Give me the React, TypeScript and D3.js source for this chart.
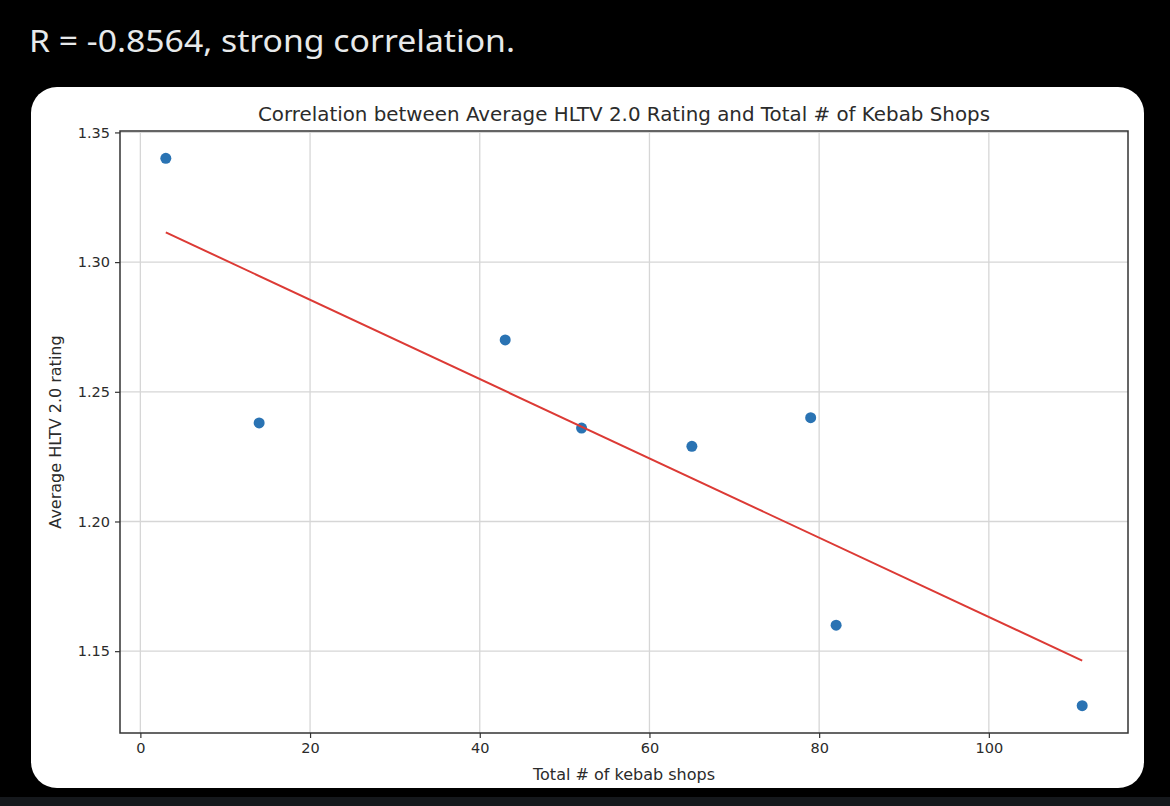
import { useEffect, useRef } from 'react';
import * as d3 from 'd3';

// Kebab shops vs. average HLTV 2.0 rating
const shopCounts = [3, 14, 43, 52, 65, 79, 82, 111];
const ratings = [1.34, 1.238, 1.27, 1.236, 1.229, 1.24, 1.16, 1.129];

const xTicks = [0, 20, 40, 60, 80, 100];
const yTicks = [1.15, 1.2, 1.25, 1.3, 1.35];

const headline = 'R = -0.8564, strong correlation.';
const chartTitle = 'Correlation between Average HLTV 2.0 Rating and Total # of Kebab Shops';
const xLabel = 'Total # of kebab shops';
const yLabel = 'Average HLTV 2.0 rating';

const W = 1170;
const H = 806;

export default function App() {
  const svgRef = useRef<SVGSVGElement>(null);

  useEffect(() => {
    document.body.style.margin = '0';
    document.body.style.background = '#000';
    if (!svgRef.current) return;

    const svg = d3.select(svgRef.current);
    svg.selectAll('*').remove();

    svg.append('rect').attr('width', W).attr('height', H).attr('fill', '#000');
    svg.append('rect').attr('y', 797).attr('width', W).attr('height', H - 797).attr('fill', '#15181c');

    // headline above the card
    svg.append('text')
      .attr('x', 29)
      .attr('y', 52)
      .attr('fill', '#e7e9ea')
      .attr('font-family', '"Noto Sans", Roboto, sans-serif')
      .attr('font-size', 31)
      .attr('textLength', 486)
      .attr('lengthAdjust', 'spacingAndGlyphs')
      .text(headline);

    // white card
    svg.append('rect')
      .attr('x', 31)
      .attr('y', 87)
      .attr('width', 1113)
      .attr('height', 701)
      .attr('rx', 26)
      .attr('fill', '#fff');

    const plot = { left: 120, right: 1128, top: 131, bottom: 733 };
    const font = '"DejaVu Sans", sans-serif';
    const textColor = '#2b2b2b';

    // matplotlib-style 5% margins
    const [xMin, xMax] = d3.extent(shopCounts) as [number, number];
    const [yMin, yMax] = d3.extent(ratings) as [number, number];
    const xPad = (xMax - xMin) * 0.05;
    const yPad = (yMax - yMin) * 0.05;

    const x = d3.scaleLinear().domain([xMin - xPad, xMax + xPad]).range([plot.left, plot.right]);
    const y = d3.scaleLinear().domain([yMin - yPad, yMax + yPad]).range([plot.bottom, plot.top]);

    const g = svg.append('g');

    // grid
    g.selectAll('.vgrid')
      .data(xTicks)
      .enter()
      .append('line')
      .attr('x1', d => x(d))
      .attr('x2', d => x(d))
      .attr('y1', plot.top)
      .attr('y2', plot.bottom)
      .attr('stroke', '#d6d6d6')
      .attr('stroke-width', 1.3);

    g.selectAll('.hgrid')
      .data(yTicks)
      .enter()
      .append('line')
      .attr('x1', plot.left)
      .attr('x2', plot.right)
      .attr('y1', d => y(d))
      .attr('y2', d => y(d))
      .attr('stroke', '#d6d6d6')
      .attr('stroke-width', 1.3);

    // axes
    const xAxis = g.append('g')
      .attr('transform', `translate(0,${plot.bottom})`)
      .call(d3.axisBottom(x).tickValues(xTicks).tickSize(5).tickPadding(5).tickFormat(d3.format('d')));
    const yAxis = g.append('g')
      .attr('transform', `translate(${plot.left},0)`)
      .call(d3.axisLeft(y).tickValues(yTicks).tickSize(5).tickPadding(5).tickFormat(d3.format('.2f')));

    [xAxis, yAxis].forEach(ax => {
      ax.select('.domain').remove();
      ax.selectAll('line').attr('stroke', '#333').attr('stroke-width', 1.2);
      ax.selectAll('text')
        .attr('fill', textColor)
        .attr('font-family', font)
        .attr('font-size', 14.5);
    });

    // spines
    g.append('rect')
      .attr('x', plot.left)
      .attr('y', plot.top)
      .attr('width', plot.right - plot.left)
      .attr('height', plot.bottom - plot.top)
      .attr('fill', 'none')
      .attr('stroke', '#333')
      .attr('stroke-width', 1.5);

    // least-squares fit across the data
    const mx = d3.mean(shopCounts)!;
    const my = d3.mean(ratings)!;
    const sxy = d3.sum(shopCounts, (v, i) => (v - mx) * (ratings[i] - my));
    const sxx = d3.sum(shopCounts, v => (v - mx) ** 2);
    const slope = sxy / sxx;
    const fit = (v: number) => my + slope * (v - mx);

    // points
    g.selectAll('.dot')
      .data(shopCounts)
      .enter()
      .append('circle')
      .attr('cx', d => x(d))
      .attr('cy', (d, i) => y(ratings[i]))
      .attr('r', 5.5)
      .attr('fill', '#2a73b3');

    g.append('line')
      .attr('x1', x(xMin))
      .attr('y1', y(fit(xMin)))
      .attr('x2', x(xMax))
      .attr('y2', y(fit(xMax)))
      .attr('stroke', '#dc3a35')
      .attr('stroke-width', 2);

    // labels
    const cx = (plot.left + plot.right) / 2;
    const cy = (plot.top + plot.bottom) / 2;

    svg.append('text')
      .attr('x', cx)
      .attr('y', 121)
      .attr('text-anchor', 'middle')
      .attr('fill', textColor)
      .attr('font-family', font)
      .attr('font-size', 19.5)
      .attr('textLength', 732)
      .attr('lengthAdjust', 'spacingAndGlyphs')
      .text(chartTitle);

    svg.append('text')
      .attr('x', cx)
      .attr('y', 780)
      .attr('text-anchor', 'middle')
      .attr('fill', textColor)
      .attr('font-family', font)
      .attr('font-size', 16)
      .text(xLabel);

    svg.append('text')
      .attr('transform', `translate(61,${cy}) rotate(-90)`)
      .attr('text-anchor', 'middle')
      .attr('fill', textColor)
      .attr('font-family', font)
      .attr('font-size', 16)
      .text(yLabel);
  }, []);

  return <svg ref={svgRef} width={W} height={H} style={{ display: 'block' }} />;
}
